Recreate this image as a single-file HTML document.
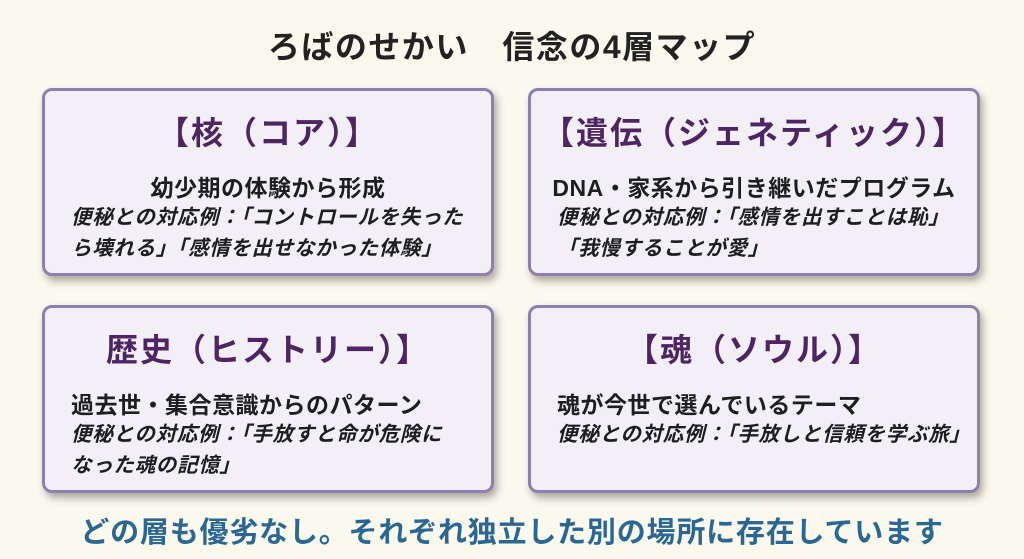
<!DOCTYPE html>
<html><head><meta charset="utf-8"><style>
html,body{margin:0;padding:0;}
body{width:1024px;height:559px;background:#fbf8ee;position:relative;overflow:hidden;font-family:"Liberation Sans","Noto Sans CJK JP",sans-serif;}
.t{position:absolute;left:0;width:1024px;top:22px;text-align:center;font-size:32px;font-weight:bold;color:#222;letter-spacing:1.5px;}
.box{position:absolute;width:452px;height:188px;background:#f2eff7;border:3px solid #8d7fb0;border-radius:10px;box-shadow:3px 5px 8px rgba(80,70,60,0.45);box-sizing:border-box;}
.h{position:absolute;left:0;right:0;top:17px;text-align:center;font-size:32px;font-weight:bold;color:#4f2462;letter-spacing:2px;}
.m{position:absolute;left:0;right:0;top:78px;text-align:center;font-size:23px;font-weight:bold;color:#1e1e1e;letter-spacing:0.5px;}
.s{position:absolute;left:26px;right:0;top:111px;font-size:20.5px;font-weight:bold;color:#1e1e1e;line-height:31px;font-style:italic;white-space:nowrap;letter-spacing:0.7px;}
.f{position:absolute;left:0;width:1024px;top:509px;text-align:center;font-size:29px;font-weight:bold;color:#2a6893;letter-spacing:0.8px;}
</style></head><body>
<div class="t">ろばのせかい　信念の4層マップ</div>
<div class="box" style="left:42px;top:88px;">
<div class="h">【核（コア）】</div>
<div class="m">幼少期の体験から形成</div>
<div class="s">便秘との対応例：「コントロールを失った<br>ら壊れる」「感情を出せなかった体験」</div>
</div>
<div class="box" style="left:528px;top:88px;">
<div class="h">【遺伝（ジェネティック）】</div>
<div class="m">DNA・家系から引き継いだプログラム</div>
<div class="s">便秘との対応例：「感情を出すことは恥」<br>「我慢することが愛」</div>
</div>
<div class="box" style="left:42px;top:305px;">
<div class="h">歴史（ヒストリー）】</div>
<div class="m" style="text-align:left;left:26px;">過去世・集合意識からのパターン</div>
<div class="s">便秘との対応例：「手放すと命が危険に<br>なった魂の記憶」</div>
</div>
<div class="box" style="left:528px;top:305px;">
<div class="h">【魂（ソウル）】</div>
<div class="m" style="text-align:left;left:26px;">魂が今世で選んでいるテーマ</div>
<div class="s">便秘との対応例：「手放しと信頼を学ぶ旅」</div>
</div>
<div class="f">どの層も優劣なし。それぞれ独立した別の場所に存在しています</div>
</body></html>
